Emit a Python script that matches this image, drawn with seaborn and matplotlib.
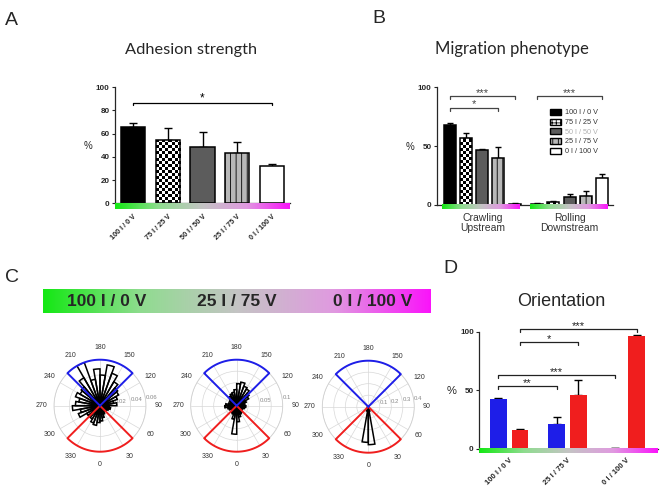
import numpy as np
import matplotlib
matplotlib.use("Agg")
import matplotlib.pyplot as plt
from matplotlib.colors import LinearSegmentedColormap
from matplotlib.patches import Patch
import seaborn as sns
import pandas as pd

sns.set_theme(style="ticks")
plt.rcParams["font.family"] = ["Liberation Sans", "DejaVu Sans"]
plt.rcParams["hatch.linewidth"] = 0.6

# ---------------- data ----------------
conditions = ["100 I / 0 V", "75 I / 25 V", "50 I / 50 V", "25 I / 75 V", "0 I / 100 V"]

adhesion_mean = [66, 54, 48, 43, 32]
adhesion_sem = [3, 11, 13, 10, 2]

migration_groups = ["Crawling\nUpstream", "Rolling\nDownstream"]
crawling_mean = [68, 56.5, 46.3, 40, 1]
crawling_sem = [1.5, 4.5, 1.2, 9.5, 0.5]
rolling_mean = [1, 2.5, 6.5, 7.5, 22.5]
rolling_sem = [0.5, 1, 2.5, 4.5, 3.5]

orient_conditions = ["100 I / 0 V", "25 I / 75 V", "0 I / 100 V"]
orient_dirs = ["upstream (180°)", "downstream (0°)"]
orient_up = [42.5, 21.5, 0.5]
orient_up_sem = [0.8, 5.5, 0.2]
orient_down = [16, 46, 96]
orient_down_sem = [1, 12.5, 1]

rose_bin_deg = list(range(5, 360, 10))
rose_100I = [0.020, 0.016, 0.012, 0.010, 0.008, 0.010, 0.012, 0.014, 0.012,
             0.022, 0.018, 0.024, 0.028, 0.030, 0.036, 0.045, 0.054, 0.040,
             0.048, 0.035, 0.060, 0.042, 0.032, 0.030, 0.034, 0.028, 0.032,
             0.036, 0.026, 0.030, 0.020, 0.018, 0.020, 0.024, 0.026, 0.022]
rose_25I = [0.035, 0.025, 0.020, 0.018, 0.015, 0.012, 0.015, 0.018, 0.020,
            0.015, 0.018, 0.022, 0.030, 0.035, 0.042, 0.045, 0.052, 0.048,
            0.035, 0.030, 0.028, 0.025, 0.020, 0.018, 0.015, 0.018, 0.024,
            0.026, 0.020, 0.018, 0.015, 0.014, 0.018, 0.020, 0.030, 0.062]
rose_0I = [0.33, 0.04, 0.02, 0.010, 0.006, 0.005, 0.005, 0.004, 0.004,
           0.004, 0.004, 0.004, 0.005, 0.005, 0.006, 0.006, 0.006, 0.006,
           0.006, 0.006, 0.006, 0.006, 0.005, 0.005, 0.004, 0.004, 0.004,
           0.004, 0.004, 0.005, 0.006, 0.008, 0.012, 0.020, 0.040, 0.31]
rose_sets = [rose_100I, rose_25I, rose_0I]
rose_rmax = [0.06, 0.1, 0.4]
rose_ticks = [[0.02, 0.04, 0.06], [0.025, 0.05, 0.075, 0.1], [0.1, 0.2, 0.3, 0.4]]
rose_ticklabels = [["0.02", "0.04", "0.06"], ["", "0.05", "", "0.1"], ["0.1", "0.2", "0.3", "0.4"]]

# significance brackets: (i, j, height, label)
sig_A = [(0, 4, 86.6, "*")]
sig_B = [((0, 0), (0, 4), 92.6, "***"), ((0, 0), (0, 3), 82.6, "*"), ((1, 0), (1, 4), 92.6, "***")]
sig_D = [((1, 0), (1, 2), 102, "***"), ((1, 0), (1, 1), 91, "*"),
         ((0, 0), (0, 2), 63, "***"), ((0, 0), (0, 1), 53.6, "**")]

gradient_labels = ["100 I / 0 V", "25 I / 75 V", "0 I / 100 V"]

# ---------------- styles ----------------
bar_colors = ["#000000", "#ffffff", "#5c5c5c", "#b8b8b8", "#ffffff"]
bar_hatch = [None, "checker", None, "|||", None]
grad_cmap = LinearSegmentedColormap.from_list("g", ["#14e814", "#8fdc8f", "#c4c4c4", "#e09ae0", "#fa14fa"])
blue, red = "#1e1ee8", "#f01e1e"

W, H = 662, 498
fig = plt.figure(figsize=(W / 100, H / 100), dpi=100)


def px_axes(x0, y0, x1, y1, **kw):
    return fig.add_axes([x0 / W, 1 - y1 / H, (x1 - x0) / W, (y1 - y0) / H], **kw)


def add_checker(ax, bar, ncols, sq_h):
    x0, w, h = bar.get_x(), bar.get_width(), bar.get_height()
    nrows = int(np.ceil(h / sq_h))
    arr = (np.add.outer(np.arange(nrows), np.arange(ncols)) % 2).astype(float)
    im = ax.imshow(arr, cmap="gray", interpolation="nearest", aspect="auto",
                   extent=[x0, x0 + w, 0, nrows * sq_h], origin="lower", zorder=0.9)
    im.set_clip_path(bar)
    bar.set_facecolor((0, 0, 0, 0))


def style_bars(ax, bars, k, ncols, sq_h):
    for bar in bars:
        bar.set_edgecolor("black")
        bar.set_linewidth(1.1)
        if bar_hatch[k] == "checker":
            add_checker(ax, bar, ncols, sq_h)
        elif bar_hatch[k]:
            bar.set_hatch(bar_hatch[k])


def bracket(ax, x1, x2, y, label, drop=2.5, color="black", fs=8.5):
    ax.plot([x1, x1, x2, x2], [y - drop, y, y, y - drop], color=color, lw=0.9, clip_on=False)
    ax.text((x1 + x2) / 2, y - 1.5, label, ha="center", va="bottom", fontsize=fs,
            color=color, clip_on=False)


def gradient_strip(ax, x0, x1, depth):
    ax.imshow(np.linspace(0, 1, 256)[None, :], cmap=grad_cmap, aspect="auto",
              extent=[x0, x1, -depth, 0], clip_on=False, zorder=3)


def style_value_axis(ax, ticks):
    ax.set_ylim(0, 100)
    ax.set_yticks(ticks)
    ax.tick_params(axis="y", labelsize=5.8, length=2.5, width=0.8, pad=1.5)
    for t in ax.get_yticklabels():
        t.set_fontweight("bold")
    sns.despine(ax=ax)
    ax.spines["left"].set_linewidth(0.9)
    ax.spines["bottom"].set_linewidth(0.9)
    ax.set_ylabel("")


# ---------------- panel A ----------------
axA = px_axes(115, 87, 290, 203.3)
dfA = pd.DataFrame({"condition": conditions, "adhesion": adhesion_mean, "sem": adhesion_sem})
sns.barplot(data=dfA, x="condition", y="adhesion", hue="condition", palette=bar_colors,
            legend=False, width=0.7, saturation=1, errorbar=None, ax=axA)
for k, cont in enumerate(axA.containers):
    style_bars(axA, cont, k, 8, 2.6)
centersA = [b.get_x() + b.get_width() / 2 for cont in axA.containers for b in cont]
axA.errorbar(centersA, adhesion_mean, yerr=[np.zeros(5), adhesion_sem], fmt="none",
             ecolor="black", elinewidth=1, capsize=3, capthick=1, zorder=0.8)
gradient_strip(axA, -0.52, 4.52, 4.9)
axA.set_xlim(-0.52, 4.52)
style_value_axis(axA, [0, 20, 40, 60, 80, 100])
axA.set_xlabel("")
axA.tick_params(axis="x", length=0, pad=7)
axA.set_xticks(range(5))
axA.set_xticklabels(conditions, rotation=45, ha="right", rotation_mode="anchor",
                    fontsize=5.2, fontweight="bold")
for i, j, y, lab in sig_A:
    bracket(axA, centersA[i], centersA[j], y, lab)
fig.text(88 / W, 1 - 146 / H, "%", fontsize=7, ha="center", va="center")
fig.text(191 / W, 1 - 54 / H, "Adhesion strength", fontsize=11.8, family="Lato",
         ha="center", va="baseline")

# ---------------- panel B ----------------
group_gap = 0.4
n = len(conditions)
rowsB = []
for g, (means, sems) in enumerate([(crawling_mean, crawling_sem), (rolling_mean, rolling_sem)]):
    for i, c in enumerate(conditions):
        rowsB.append({"pos": g * (n + group_gap) + i, "condition": c,
                      "value": means[i], "sem": sems[i]})
dfB = pd.DataFrame(rowsB)
axB = px_axes(437, 87.3, 613, 204.7)
sns.barplot(data=dfB, x="pos", y="value", hue="condition", palette=bar_colors,
            native_scale=True, dodge=False, width=0.74, saturation=1, errorbar=None,
            legend=False, ax=axB)
for k, cont in enumerate(axB.containers):
    style_bars(axB, cont, k, 4, 2.55)
axB.errorbar(dfB["pos"], dfB["value"], yerr=[np.zeros(len(dfB)), dfB["sem"]], fmt="none",
             ecolor="black", elinewidth=1, capsize=2.5, capthick=1, zorder=0.8)
group_centers = []
for g in range(2):
    p = dfB["pos"].values[g * n:(g + 1) * n]
    gradient_strip(axB, p[0] - 0.47, p[-1] + 0.3, 3.9)
    group_centers.append(p.mean())
axB.set_xlim(-0.8, 10.08)
style_value_axis(axB, [0, 50, 100])
axB.set_xlabel("")
axB.set_xticks(group_centers)
axB.set_xticklabels(migration_groups, fontsize=7.5, color="#333333", linespacing=1.05)
axB.tick_params(axis="x", length=0, pad=6)
posB = dfB["pos"].values
for (g1, i1), (g2, i2), y, lab in sig_B:
    bracket(axB, posB[g1 * n + i1], posB[g2 * n + i2], y, lab, drop=2.5, color="#444444", fs=8)
handles = []
for k, c in enumerate(conditions):
    if bar_hatch[k] == "checker":
        handles.append(Patch(facecolor="white", edgecolor="black", hatch="++++", label=c))
    else:
        handles.append(Patch(facecolor=bar_colors[k], edgecolor="black",
                             hatch=bar_hatch[k], label=c))
leg = axB.legend(handles=handles, loc="upper left", bbox_to_anchor=(550 / W, 1 - 109 / H),
                 bbox_transform=fig.transFigure, frameon=False, fontsize=5.2,
                 handlelength=1.5, handleheight=0.9, labelspacing=0.3, handletextpad=0.6,
                 borderpad=0, borderaxespad=0)
for k, t in enumerate(leg.get_texts()):
    t.set_color("#b0b0b0" if k == 2 else "#333333")
fig.text(410 / W, 1 - 147 / H, "%", fontsize=7, ha="center", va="center")
fig.text(512 / W, 1 - 54 / H, "Migration phenotype", fontsize=12, family="Lato",
         ha="center", va="baseline")

# ---------------- panel C ----------------
axG = px_axes(42.7, 289, 430, 312.7)
axG.imshow(np.linspace(0, 1, 256)[None, :], cmap=grad_cmap, aspect="auto", extent=[0, 1, 0, 1])
axG.set_xlim(0, 1)
axG.set_ylim(0, 1)
axG.set_axis_off()
for lab, xf in zip(gradient_labels, [0.165, 0.501, 0.853]):
    axG.text(xf, 0.47, lab, ha="center", va="center", fontsize=12.5, fontweight="bold",
             family="Liberation Sans")

centersC = [(100, 405.7), (236.7, 405.7), (368.3, 406.7)]
R = 46
for (cx, cy), vals, rmax, rt, rtl in zip(centersC, rose_sets, rose_rmax, rose_ticks, rose_ticklabels):
    ax = px_axes(cx - R, cy - R, cx + R, cy + R, projection="polar")
    ax.set_theta_zero_location("S")
    ax.set_theta_direction(1)
    ax.bar(np.deg2rad(rose_bin_deg), vals, width=np.deg2rad(10), bottom=0, fill=False,
           edgecolor="black", linewidth=1.1, zorder=3)
    th = np.deg2rad(np.linspace(-45, 45, 60))
    ax.plot(np.r_[0, th, 0], np.r_[0, np.full(60, rmax), 0], color=red, lw=1.4, zorder=4, clip_on=False)
    th = np.deg2rad(np.linspace(135, 225, 60))
    ax.plot(np.r_[0, th, 0], np.r_[0, np.full(60, rmax), 0], color=blue, lw=1.4, zorder=4, clip_on=False)
    ax.set_ylim(0, rmax)
    ax.set_yticks(rt)
    ax.set_yticklabels(rtl, fontsize=4.3, color="#888888")
    ax.set_rlabel_position(97)
    ax.set_thetagrids(np.arange(0, 360, 30), labels=[str(a) for a in range(0, 360, 30)],
                      fontsize=5, color="#333333")
    ax.tick_params(axis="x", pad=-4)
    ax.grid(True, color="#d8d8d8", lw=0.5)
    ax.spines["polar"].set_color("#d0d0d0")
    ax.spines["polar"].set_linewidth(0.6)
    ax.set_facecolor("white")

# ---------------- panel D ----------------
axD = px_axes(479.3, 331.7, 658, 448.7)
dfD = pd.DataFrame({"condition": orient_conditions * 2,
                    "direction": [orient_dirs[0]] * 3 + [orient_dirs[1]] * 3,
                    "value": orient_up + orient_down,
                    "sem": orient_up_sem + orient_down_sem})
sns.barplot(data=dfD, x="condition", y="value", hue="direction", hue_order=orient_dirs,
            palette=[blue, red], width=0.744, gap=0.23, saturation=1, errorbar=None,
            legend=False, ax=axD, linewidth=0)
centersD = [[b.get_x() + b.get_width() / 2 for b in cont] for cont in axD.containers]
for h, sems in enumerate([orient_up_sem, orient_down_sem]):
    heights = [b.get_height() for b in axD.containers[h]]
    axD.errorbar(centersD[h], heights, yerr=[np.zeros(3), sems], fmt="none", ecolor="black",
                 elinewidth=1, capsize=3, capthick=1, zorder=0.8)
gradient_strip(axD, -0.51, 2.55, 4.1)
axD.set_xlim(-0.51, 2.55)
style_value_axis(axD, [0, 50, 100])
axD.set_xlabel("")
axD.set_xticks(range(3))
axD.set_xticklabels(orient_conditions, rotation=45, ha="right", rotation_mode="anchor",
                    fontsize=5.5, fontweight="bold")
axD.tick_params(axis="x", length=0, pad=6)
for (h1, i1), (h2, i2), y, lab in sig_D:
    bracket(axD, centersD[h1][i1], centersD[h2][i2], y, lab, drop=2.5, color="#222222", fs=8)
fig.text(451.7 / W, 1 - 391 / H, "%", fontsize=8, ha="center", va="center")
fig.text(561 / W, 1 - 306 / H, "Orientation", fontsize=13, ha="center", va="baseline")

# ---------------- panel letters ----------------
for lab, x, y in [("A", 5, 25), ("B", 372, 23), ("C", 5, 282), ("D", 443, 273)]:
    fig.text(x / W, 1 - y / H, lab, fontsize=14, ha="left", va="baseline")

fig.savefig("out.png", dpi=100)
